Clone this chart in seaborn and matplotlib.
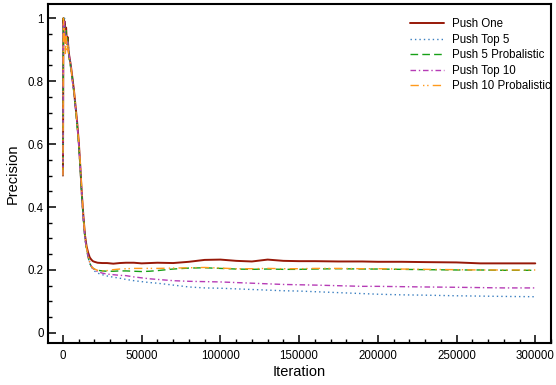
import matplotlib
matplotlib.use("Agg")
import matplotlib.pyplot as plt
import seaborn as sns
from matplotlib.ticker import MultipleLocator

# Sample iterations at which precision was recorded
iterations = [
    0, 300, 700, 1000, 1500, 2000, 2500, 3000, 3500, 4000,
    5000, 6000, 7000, 8000, 9000, 10000, 11000, 12000, 13000, 14000,
    15000, 16000, 17000, 18000, 19000,
    20000, 22000, 25000, 28000, 32000, 36000, 40000, 45000, 50000, 55000,
    60000, 70000, 80000, 90000, 100000, 110000, 120000, 130000, 140000, 150000,
    160000, 175000, 190000, 200000, 215000, 230000, 250000, 265000, 280000, 300000,
]

push_one = [
    0.50, 1.00, 0.96, 0.99, 0.94, 0.97, 0.92, 0.94, 0.90, 0.88,
    0.85, 0.81, 0.77, 0.72, 0.67, 0.61, 0.53, 0.44, 0.37, 0.31,
    0.275, 0.255, 0.240, 0.233, 0.228,
    0.226, 0.223, 0.222, 0.222, 0.220, 0.222, 0.223, 0.223, 0.221, 0.222,
    0.223, 0.222, 0.226, 0.232, 0.233, 0.229, 0.227, 0.233, 0.229, 0.228,
    0.228, 0.227, 0.227, 0.226, 0.226, 0.225, 0.224, 0.221, 0.221, 0.221,
]

push_top5 = [
    0.50, 0.99, 0.95, 1.00, 0.93, 0.96, 0.93, 0.93, 0.91, 0.88,
    0.85, 0.80, 0.76, 0.72, 0.66, 0.60, 0.52, 0.43, 0.36, 0.30,
    0.265, 0.240, 0.222, 0.210, 0.203,
    0.197, 0.190, 0.185, 0.181, 0.177, 0.174, 0.170, 0.166, 0.163, 0.160,
    0.158, 0.152, 0.146, 0.143, 0.142, 0.140, 0.138, 0.136, 0.134, 0.133,
    0.131, 0.128, 0.125, 0.123, 0.121, 0.120, 0.118, 0.117, 0.116, 0.115,
]

push5_prob = [
    0.50, 1.00, 0.97, 0.98, 0.93, 0.96, 0.91, 0.94, 0.90, 0.87,
    0.84, 0.81, 0.76, 0.71, 0.66, 0.60, 0.52, 0.43, 0.36, 0.30,
    0.265, 0.240, 0.222, 0.211, 0.206,
    0.203, 0.199, 0.197, 0.196, 0.196, 0.197, 0.197, 0.196, 0.195, 0.196,
    0.198, 0.203, 0.206, 0.207, 0.205, 0.203, 0.202, 0.203, 0.202, 0.202,
    0.203, 0.204, 0.203, 0.203, 0.202, 0.201, 0.200, 0.200, 0.199, 0.199,
]

push_top10 = [
    0.50, 0.98, 0.96, 0.99, 0.92, 0.95, 0.92, 0.93, 0.89, 0.88,
    0.85, 0.80, 0.77, 0.71, 0.67, 0.60, 0.53, 0.44, 0.36, 0.30,
    0.268, 0.242, 0.224, 0.212, 0.205,
    0.200, 0.195, 0.190, 0.187, 0.185, 0.183, 0.182, 0.178, 0.175, 0.172,
    0.170, 0.166, 0.164, 0.163, 0.162, 0.160, 0.158, 0.156, 0.154, 0.153,
    0.152, 0.150, 0.148, 0.148, 0.147, 0.146, 0.145, 0.144, 0.143, 0.143,
]

push10_prob = [
    0.50, 1.00, 0.93, 0.97, 0.88, 0.95, 0.90, 0.92, 0.89, 0.87,
    0.85, 0.80, 0.77, 0.72, 0.66, 0.61, 0.54, 0.45, 0.37, 0.31,
    0.270, 0.245, 0.225, 0.212, 0.206,
    0.203, 0.199, 0.197, 0.198, 0.201, 0.203, 0.204, 0.205, 0.205, 0.205,
    0.205, 0.206, 0.207, 0.208, 0.206, 0.204, 0.204, 0.205, 0.204, 0.204,
    0.205, 0.205, 0.204, 0.204, 0.203, 0.202, 0.201, 0.200, 0.200, 0.200,
]

series_labels = ["Push One", "Push Top 5", "Push 5 Probalistic", "Push Top 10", "Push 10 Probalistic"]
series_values = [push_one, push_top5, push5_prob, push_top10, push10_prob]
series_colors = ["#971808", "#3a7fc0", "#17a017", "#b63cb6", "#ff9a1c"]
series_styles = ["-", (0, (1, 2.2)), (0, (5.5, 3)), (0, (4, 2, 1, 2)), (0, (6, 3, 1, 2, 1, 3))]
series_widths = [1.4, 1.0, 1.0, 1.0, 1.0]

sns.set_theme(style="white")
plt.rcParams["font.family"] = ["Liberation Sans", "DejaVu Sans"]
plt.rcParams["text.color"] = "black"
plt.rcParams["axes.labelcolor"] = "black"
plt.rcParams["xtick.color"] = "black"
plt.rcParams["ytick.color"] = "black"

fig = plt.figure(figsize=(5.56, 3.85), dpi=100)
ax = fig.add_axes([48 / 556, 1 - 343 / 385, 503 / 556, 339 / 385])

for label, vals, color, ls, lw in zip(series_labels, series_values, series_colors, series_styles, series_widths):
    sns.lineplot(x=iterations, y=vals, ax=ax, color=color, linestyle=ls,
                 linewidth=lw, label=label, legend=False)

ax.set_xlim(-9500, 310000)
ax.set_ylim(-0.032, 1.045)
ax.xaxis.set_minor_locator(MultipleLocator(10000))
ax.yaxis.set_minor_locator(MultipleLocator(0.05))
ax.set_yticks([0, 0.2, 0.4, 0.6, 0.8, 1.0])
ax.set_yticklabels(["0", "0.2", "0.4", "0.6", "0.8", "1"])
ax.set_xticks([0, 50000, 100000, 150000, 200000, 250000, 300000])
ax.set_xticklabels(["0", "50000", "100000", "150000", "200000", "250000", "300000"])

ax.tick_params(axis="both", which="major", direction="in", length=5.5, width=1.1,
               labelsize=8.3, pad=3, colors="black")
ax.tick_params(axis="both", which="minor", direction="in", length=2.8, width=1.0, colors="black")
ax.tick_params(axis="x", which="major", pad=5)
ax.tick_params(bottom=True, left=True, top=False, right=False, which="both")

for side in ["left", "bottom", "top", "right"]:
    ax.spines[side].set_visible(True)
    ax.spines[side].set_color("black")
    ax.spines[side].set_linewidth(1.5)

ax.set_xlabel("Iteration", fontsize=10.5, labelpad=2, color="black")
ax.set_ylabel("Precision", fontsize=10.5, labelpad=6, color="black")

handles, labels = ax.get_legend_handles_labels()
leg = ax.legend(handles, labels, loc="upper left", bbox_to_anchor=(0.72, 0.958),
                frameon=False, fontsize=8.3, handlelength=2.9, handletextpad=0.75,
                labelspacing=0.3, borderpad=0, borderaxespad=0, labelcolor="black")
for txt in leg.get_texts():
    txt.set_clip_box(ax.bbox)
    txt.set_clip_on(True)

fig.savefig("out.png", dpi=100)
